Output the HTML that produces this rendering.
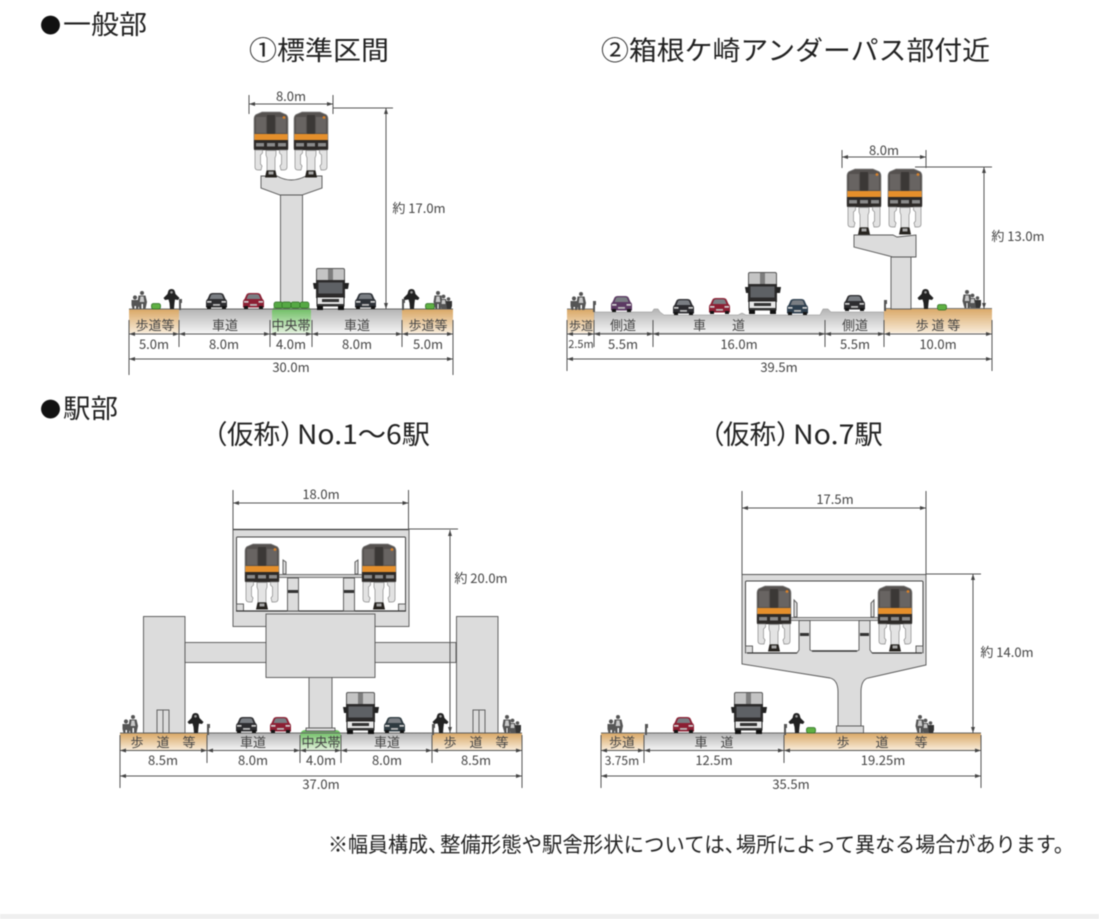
<!DOCTYPE html>
<html lang="ja"><head><meta charset="utf-8"><title>断面図</title>
<style>
html,body{margin:0;padding:0;background:#fff}
svg{display:block;filter:blur(.45px)}
text{font-family:"Liberation Sans","Noto Sans CJK JP",sans-serif;fill:#333}
.j{font-family:"Noto Sans CJK JP",sans-serif}
.h{font-size:26.5px;fill:#222}
.b{font-size:13px;text-anchor:middle;fill:#444;font-family:"Noto Sans CJK JP",sans-serif}
.m{font-size:13px;text-anchor:middle;fill:#444;font-family:"Noto Sans CJK JP",sans-serif}
.n{font-size:21px;fill:#222}
.d line{stroke:#555;stroke-width:1}
.a{marker-start:url(#ar);marker-end:url(#ar)}
.s{fill:#dcdcdc;stroke:#555;stroke-width:.9}
</style></head><body>
<svg width="1099" height="919" viewBox="0 0 1099 919" xmlns="http://www.w3.org/2000/svg">
<defs>
<linearGradient id="sw" x1="0" y1="0" x2="0" y2="1"><stop offset="0" stop-color="#d9a765"/><stop offset="1" stop-color="#f8ebd8"/></linearGradient>
<linearGradient id="rd" x1="0" y1="0" x2="0" y2="1"><stop offset="0" stop-color="#b4b4b4"/><stop offset="1" stop-color="#f4f4f4"/></linearGradient>
<linearGradient id="gr" x1="0" y1="0" x2="0" y2="1"><stop offset="0" stop-color="#63b958"/><stop offset="1" stop-color="#e2f2dc"/></linearGradient>
<marker id="ar" viewBox="-3 -2 6 4" markerWidth="6" markerHeight="4" orient="auto-start-reverse" markerUnits="userSpaceOnUse" refX="3" refY="0"><path d="M3 0L-3-2V2Z" fill="#444"/></marker>
<symbol id="t" width="34" height="66" viewBox="0 0 34 66" overflow="visible">
<path d="M8 0H26L32 2.5Q34 4 34 7V36Q34 38 32 38H2Q0 38 0 36V7Q0 4 2 2.5Z" fill="#55514f" stroke="#8a8a8a" stroke-width=".7"/>
<rect x="2" y="5" width="10" height="16" fill="#686462"/><rect x="22" y="5" width="10" height="16" fill="#686462"/>
<rect x="13" y="3" width="8" height="19" fill="#3b3836"/><circle cx="30" cy="5.500" r="1.400" fill="#d8812a"/>
<rect x=".4" y="22" width="33.200" height="6" fill="#e58f2b"/>
<rect x="0" y="28" width="34" height="10" fill="#2d2a28"/>
<rect x="2" y="31" width="8" height="3.500" fill="#8a8a8a"/><rect x="13" y="31" width="8" height="3.500" fill="#8a8a8a"/><rect x="24" y="31" width="8" height="3.500" fill="#8a8a8a"/>
<path d="M1 38H8.500V41L6.500 43V52L8 54 7 58H4Q1 58 1 55Z" fill="#e2e2e2" stroke="#888" stroke-width=".7"/>
<path d="M33 38H25.500V41L27.500 43V52L26 54 27 58H30Q33 58 33 55Z" fill="#e2e2e2" stroke="#888" stroke-width=".7"/>
<path d="M12 38.500H22V43L21 46V58.500H13V46L12 43Z" fill="#e4e4e4" stroke="#888" stroke-width=".7"/>
<path d="M12.500 58.500H21.500L23 65.500H11Z" fill="#26231f"/><rect x="14.500" y="59.500" width="5" height="3" fill="#a5a5a5"/>
</symbol>
<symbol id="c" width="21" height="16" viewBox="0 0 21 16" overflow="visible">
<path d="M1.500 6L3.500 1.500Q4.500 0 7 0H14Q16.500 0 17.500 1.500L19.500 6Q21 7 21 9V14.500H0V9Q0 7 1.500 6Z" fill="currentColor"/>
<path d="M3.500 6L5 2.200Q5.500 1.300 7.500 1.300H13.500Q15.500 1.300 16 2.200L17.500 6Z" fill="#7a7e83"/>
<rect x="1" y="8" width="4.500" height="1.700" fill="#d0d0d0"/><rect x="15.500" y="8" width="4.500" height="1.700" fill="#d0d0d0"/>
<rect x="7" y="11" width="7" height="1.800" fill="#bbb"/>
<rect x="1" y="13" width="4" height="3" fill="#141414"/><rect x="16" y="13" width="4" height="3" fill="#141414"/>
</symbol>
<symbol id="k" width="36" height="42" viewBox="0 0 36 42" overflow="visible">
<rect x="3.500" y=".5" width="28" height="15" rx="1.500" fill="#c4c4c4" stroke="#555"/><rect x="15" y="1" width="5" height="14" fill="#7d7d7d"/>
<rect x="3" y="12" width="29" height="18" fill="#2c2b2b"/><rect x="5.500" y="14.500" width="24" height="11" fill="#5e6165"/>
<path d="M0 15H4V21H1Z" fill="#222"/><path d="M36 15H31V21H35Z" fill="#222"/>
<rect x="4" y="29" width="27" height="9" fill="#e8e8e8" stroke="#222"/><rect x="9" y="31" width="17" height="3" fill="#333"/>
<rect x="3.500" y="36" width="28" height="2.500" fill="#333"/>
<rect x="4" y="38" width="6" height="4" fill="#111"/><rect x="25" y="38" width="6" height="4" fill="#111"/>
</symbol>
<symbol id="p" width="19" height="18" viewBox="0 0 19 18" overflow="visible">
<g fill="#555"><circle cx="4" cy="6.500" r="2.100"/><path d="M.5 9H7.500L8 14 7 18H5V15H3.500V18H1.500L.5 14Z"/>
<circle cx="11" cy="2" r="2"/><path d="M7.500 4.500H14.500L16 11 14.500 18H12V13H10.500V18H8.500L6.500 11Z"/></g>
<path d="M9.500 5.500H12.500L13.300 11H8.700Z" fill="#c9c9c9"/>
</symbol>
<symbol id="q" width="19" height="18" viewBox="0 0 19 18" overflow="visible">
<g fill="#555"><circle cx="5" cy="2" r="2"/><path d="M1.500 4.500H8.500L9.500 11 8 18H5.500V13H4.500V18H2.500L.5 11Z"/>
<circle cx="10.500" cy="5.500" r="1.900"/><path d="M8 8H13L14 13V18H8.500L7.500 13Z"/>
<circle cx="15.500" cy="8" r="1.800"/><path d="M13 10H19V15L18 18H14Z" fill="#333"/></g>
<path d="M3.500 5.500H6.500L7.300 11H2.700Z" fill="#c9c9c9"/><path d="M9 9H12L12.500 13H8.500Z" fill="#c9c9c9"/>
</symbol>
<symbol id="w" width="16" height="20" viewBox="0 0 16 20" overflow="visible">
<path d="M7.500 0Q10.500 0 11 3L11.500 5 15.500 9 14 11 11 10.500 10.500 14 10 20H6L5.500 14 4.500 10.500 1 11 -.5 9 3.500 5 4 3Q4.500 0 7.500 0Z" fill="#222"/>
<circle cx="7.500" cy="3.300" r="1.300" fill="#999"/>
</symbol>
<symbol id="o" width="4" height="11" viewBox="0 0 4 11" overflow="visible"><path d="M1 0H4V4H3V11H1Z" fill="#555"/></symbol>
<symbol id="u" width="10" height="6" viewBox="0 0 10 6" overflow="visible"><rect x=".5" y=".5" width="9" height="5.500" rx="2" fill="#5fb043" stroke="#2f6e25" stroke-width=".8"/></symbol>
</defs>
<rect width="1099" height="919" fill="#fff"/>
<rect y="914" width="1099" height="5" fill="#efefef"/>

<text class="j" x="40" y="33" font-size="21" style="fill:#111">●</text>
<text class="h j" x="63" y="34" textLength="84" lengthAdjust="spacingAndGlyphs">一般部</text>
<text class="h j" x="249" y="60" textLength="140" lengthAdjust="spacingAndGlyphs">①標準区間</text>
<text class="h j" x="601" y="60" textLength="389" lengthAdjust="spacingAndGlyphs">②箱根ケ崎アンダーパス部付近</text>
<text class="j" x="40" y="417" font-size="21" style="fill:#111">●</text>
<text class="h j" x="63" y="418" textLength="55" lengthAdjust="spacingAndGlyphs">駅部</text>
<text class="h j" x="201" y="444">（</text><text class="h j" x="227" y="444" textLength="53" lengthAdjust="spacingAndGlyphs">仮称</text><text class="h j" x="280" y="444">）</text><text class="h j" x="297" y="444" textLength="133" lengthAdjust="spacingAndGlyphs">No.1～6駅</text>
<text class="h j" x="698" y="444">（</text><text class="h j" x="723" y="444" textLength="53" lengthAdjust="spacingAndGlyphs">仮称</text><text class="h j" x="776" y="444">）</text><text class="h j" x="793" y="444" textLength="90" lengthAdjust="spacingAndGlyphs">No.7駅</text>
<text class="n j" x="328" y="852" textLength="120" lengthAdjust="spacingAndGlyphs">※幅員構成、</text>
<text class="n j" x="440" y="852" textLength="305" lengthAdjust="spacingAndGlyphs">整備形態や駅舎形状については、</text>
<text class="n j" x="736" y="852" textLength="338" lengthAdjust="spacingAndGlyphs">場所によって異なる場合があります。</text>

<!-- Diagram 1 -->
<g>
<rect x="129" y="309" width="324" height="24" fill="url(#rd)"/>
<rect x="129" y="309" width="50" height="24" fill="url(#sw)"/><rect x="402" y="309" width="51" height="24" fill="url(#sw)"/>
<path d="M272 333V311Q273 306 277 306H306Q310 306 311 311V333Z" fill="url(#gr)"/>
<line x1="129" y1="309" x2="453" y2="309" stroke="#666"/>
<rect class="s" x="280.500" y="195" width="22" height="110"/>
<path class="s" d="M261 176H277Q291 184 306 176H322V188L302 195H280L261 188Z"/>
<use href="#t" x="254" y="112"/><use href="#t" x="294" y="112"/>
<g fill="#56a944" stroke="#2f6e25" stroke-width=".7"><rect x="274" y="302" width="9" height="6" rx="2"/><rect x="282" y="302" width="9" height="6" rx="2"/><rect x="291" y="302" width="9" height="6" rx="2"/><rect x="300" y="302" width="9" height="6" rx="2"/></g>
<use href="#p" x="131" y="291"/><use href="#u" x="151" y="303"/><use href="#w" x="164" y="289"/><use href="#o" x="178" y="299"/>
<use href="#c" x="206" y="293" color="#2d2d30"/><use href="#c" x="243" y="293" color="#8c1f33"/>
<use href="#k" x="313" y="268"/><use href="#c" x="355" y="293" color="#2e3238"/>
<use href="#o" x="401" y="299"/><use href="#w" x="404" y="289"/><use href="#u" x="425" y="303"/><use href="#q" x="433" y="291"/>
<text class="b" x="155" y="330">歩道等</text><text class="b" x="225" y="330">車道</text><text class="b" x="291" y="330">中央帯</text><text class="b" x="357" y="330">車道</text><text class="b" x="428" y="330">歩道等</text>
<g class="d">
<line x1="129" y1="320" x2="129" y2="375"/><line x1="179" y1="320" x2="179" y2="347"/><line x1="270" y1="320" x2="270" y2="347"/><line x1="312" y1="320" x2="312" y2="347"/><line x1="402" y1="320" x2="402" y2="347"/><line x1="453" y1="320" x2="453" y2="375"/>
<line class="a" x1="129" y1="334" x2="179" y2="334"/><line class="a" x1="179" y1="334" x2="270" y2="334"/><line class="a" x1="270" y1="334" x2="312" y2="334"/><line class="a" x1="312" y1="334" x2="402" y2="334"/><line class="a" x1="402" y1="334" x2="453" y2="334"/>
<line class="a" x1="129" y1="359" x2="453" y2="359"/>
<line x1="249" y1="95" x2="249" y2="114"/><line x1="333" y1="95" x2="333" y2="114"/><line class="a" x1="249" y1="104" x2="333" y2="104"/>
<line x1="333" y1="108" x2="393" y2="108"/><line class="a" x1="386" y1="108" x2="386" y2="309"/>
</g>
<text class="m" x="154" y="349">5.0m</text><text class="m" x="224" y="349">8.0m</text><text class="m" x="291" y="349">4.0m</text><text class="m" x="357" y="349">8.0m</text><text class="m" x="428" y="349">5.0m</text><text class="m" x="291" y="372">30.0m</text><text class="m" x="291" y="101">8.0m</text><text class="m" x="419" y="213">約 17.0m</text>
</g>

<!-- Diagram 2 -->
<g>
<path d="M594 333V312H652L654 309H658L660 312L664 315H738L742 313L746 315H820L823 309H828L831 312H884V333Z" fill="url(#rd)" stroke="#888" stroke-width=".5"/>
<rect x="567" y="309" width="27" height="24" fill="url(#sw)"/><rect x="884" y="308" width="108" height="25" fill="url(#sw)"/>
<line x1="567" y1="309" x2="594" y2="309" stroke="#777"/><line x1="884" y1="308.500" x2="992" y2="308.500" stroke="#777"/>
<rect class="s" x="891" y="257" width="20" height="52"/>
<path class="s" d="M854 235H893L897 237 916 235V257H893L854 247Z"/>
<use href="#t" x="847" y="169"/><use href="#t" x="888" y="169"/>
<use href="#p" x="570" y="292"/><use href="#o" x="592" y="301"/>
<use href="#c" x="611" y="296" color="#5c3a63"/><use href="#c" x="673" y="299" color="#2c2c30"/><use href="#c" x="709" y="298" color="#8c1f33"/>
<use href="#k" x="745" y="272"/><use href="#c" x="787" y="299" color="#2e3f4e"/><use href="#c" x="844" y="295" color="#2d2d30"/>
<use href="#o" x="883" y="300"/><use href="#w" x="918" y="289"/><use href="#u" x="937" y="304"/><use href="#q" x="962" y="290"/>
<text class="b" x="581" y="330" style="font-size:12px">歩道</text><text class="b" x="623" y="330">側道</text><text class="b" x="719" y="330" xml:space="preserve">車　　道</text><text class="b" x="855" y="330">側道</text><text class="b" x="938" y="330">歩 道 等</text>
<g class="d">
<line x1="567" y1="320" x2="567" y2="371"/><line x1="594" y1="320" x2="594" y2="347"/><line x1="653" y1="320" x2="653" y2="347"/><line x1="825" y1="320" x2="825" y2="347"/><line x1="884" y1="320" x2="884" y2="347"/><line x1="992" y1="320" x2="992" y2="371"/>
<line class="a" x1="567" y1="334" x2="594" y2="334"/><line class="a" x1="594" y1="334" x2="653" y2="334"/><line class="a" x1="653" y1="334" x2="825" y2="334"/><line class="a" x1="825" y1="334" x2="884" y2="334"/><line class="a" x1="884" y1="334" x2="992" y2="334"/>
<line class="a" x1="567" y1="359" x2="992" y2="359"/>
<line x1="842" y1="150" x2="842" y2="168"/><line x1="926" y1="150" x2="926" y2="168"/><line class="a" x1="842" y1="157" x2="926" y2="157"/>
<line x1="915" y1="167" x2="992" y2="167"/><line class="a" x1="984" y1="167" x2="984" y2="309"/>
</g>
<text class="m" x="581" y="348" style="font-size:11px">2.5m</text><text class="m" x="623" y="349">5.5m</text><text class="m" x="739" y="349">16.0m</text><text class="m" x="855" y="349">5.5m</text><text class="m" x="938" y="349">10.0m</text><text class="m" x="779" y="372">39.5m</text><text class="m" x="884" y="155">8.0m</text><text class="m" x="1018" y="241">約 13.0m</text>
</g>

<!-- Diagram 3 -->
<g>
<rect x="120" y="733" width="402" height="17" fill="url(#rd)"/>
<rect x="120" y="733" width="87" height="17" fill="url(#sw)"/><rect x="432" y="733" width="90" height="17" fill="url(#sw)"/>
<path d="M300 750V735Q301 730 305 730H336Q340 730 341 735V750Z" fill="url(#gr)"/>
<line x1="120" y1="733" x2="522" y2="733" stroke="#666"/>
<rect class="s" x="143.500" y="616.500" width="41.500" height="116.500"/><rect class="s" x="456.500" y="616.500" width="41.500" height="116.500"/>
<rect class="s" x="157" y="710" width="12" height="23"/><line x1="163" y1="710" x2="163" y2="733" stroke="#666"/><rect class="s" x="473" y="710" width="12" height="23"/><line x1="479" y1="710" x2="479" y2="733" stroke="#666"/>
<rect class="s" x="185" y="642.500" width="271" height="20"/>
<rect class="s" x="309" y="677" width="23" height="51"/><rect class="s" x="306" y="728" width="29" height="3"/>
<rect class="s" x="233" y="529.500" width="176" height="97"/>
<rect x="236.500" y="537" width="169" height="74" rx="1" fill="#fff" stroke="#444"/>
<rect class="s" x="236.500" y="604" width="7" height="7"/><rect class="s" x="398.500" y="604" width="7" height="7"/>
<line x1="233" y1="529.500" x2="409" y2="529.500" stroke="#333" stroke-width="1.300"/>
<rect class="s" x="266" y="614" width="109" height="63.500"/>
<line x1="236" y1="611" x2="406" y2="611" stroke="#333" stroke-width="1.300"/>
<rect class="s" x="287.500" y="578" width="11" height="33"/><rect class="s" x="343.500" y="578" width="11" height="33"/>
<rect x="288" y="590" width="10" height="3" fill="#333"/><rect x="344" y="590" width="10" height="3" fill="#333"/>
<rect x="279" y="574.500" width="83" height="3" fill="#d0d0d0" stroke="#444" stroke-width=".7"/>
<path class="s" d="M283 560L286 562V574H283Z"/><path class="s" d="M358 560L355 562V574H358Z"/>
<use href="#t" x="245" y="544"/><use href="#t" x="362" y="544"/>
<use href="#p" x="122" y="715"/><use href="#w" x="188" y="713"/><use href="#o" x="206" y="724"/>
<use href="#c" x="236" y="717" color="#2d2d30"/><use href="#c" x="270" y="717" color="#8c1f33"/>
<use href="#k" x="343" y="692"/><use href="#c" x="384" y="717" color="#2e3a40"/>
<use href="#o" x="431" y="724"/><use href="#w" x="433" y="713"/><use href="#q" x="502" y="715"/>
<text class="b" x="163" y="747" xml:space="preserve">歩　道　等</text><text class="b" x="253" y="747">車道</text><text class="b" x="321" y="747">中央帯</text><text class="b" x="387" y="747">車道</text><text class="b" x="476" y="747" xml:space="preserve">歩　道　等</text>
<g class="d">
<line x1="120" y1="735" x2="120" y2="788"/><line x1="207" y1="735" x2="207" y2="763"/><line x1="300" y1="735" x2="300" y2="763"/><line x1="341" y1="735" x2="341" y2="763"/><line x1="432" y1="735" x2="432" y2="763"/><line x1="522" y1="735" x2="522" y2="788"/>
<line class="a" x1="120" y1="750.500" x2="207" y2="750.500"/><line class="a" x1="207" y1="750.500" x2="300" y2="750.500"/><line class="a" x1="300" y1="750.500" x2="341" y2="750.500"/><line class="a" x1="341" y1="750.500" x2="432" y2="750.500"/><line class="a" x1="432" y1="750.500" x2="522" y2="750.500"/>
<line class="a" x1="120" y1="776" x2="522" y2="776"/>
<line x1="233" y1="490" x2="233" y2="530"/><line x1="408.500" y1="490" x2="408.500" y2="530"/><line class="a" x1="233" y1="503" x2="408.500" y2="503"/>
<line x1="408" y1="529" x2="458" y2="529"/><line class="a" x1="450" y1="530" x2="450" y2="733"/>
</g>
<text class="m" x="163" y="765">8.5m</text><text class="m" x="253" y="765">8.0m</text><text class="m" x="321" y="765">4.0m</text><text class="m" x="387" y="765">8.0m</text><text class="m" x="476" y="765">8.5m</text><text class="m" x="321" y="789">37.0m</text><text class="m" x="321" y="499">18.0m</text><text class="m" x="481" y="583">約 20.0m</text>
</g>

<!-- Diagram 4 -->
<g>
<rect x="601" y="733" width="380" height="17" fill="url(#rd)"/>
<rect x="601" y="733" width="43" height="17" fill="url(#sw)"/><rect x="784" y="733" width="197" height="17" fill="url(#sw)"/>
<line x1="601" y1="733" x2="981" y2="733" stroke="#666"/>
<path class="s" d="M742 574.500H926V665L868 678Q861 680 861 692V726H838V692Q838 680 830 678L742 664Z"/>
<rect class="s" x="836.500" y="726" width="27" height="7"/>
<rect x="746" y="581.500" width="176.500" height="71.500" fill="#fff"/>
<path d="M745.500 653V582Q745.500 581 747 581H921.500Q923 581 923 582V653" fill="none" stroke="#444"/>
<rect class="s" x="745.500" y="646" width="7" height="7"/><rect class="s" x="916" y="646" width="7" height="7"/>
<path d="M799 620.500H810V650L812 651H857L859 650V620.500H870V650L872 653H923V660H746V653H797L799 650Z" fill="#dcdcdc" stroke="none"/>
<path d="M797 653L799 650V620.500H810V650L812 651M857 651L859 650V620.500H870V650L872 653" fill="none" stroke="#555" stroke-width=".9"/>
<line x1="747" y1="653" x2="797" y2="653" stroke="#333" stroke-width="1.200"/><line x1="812" y1="651" x2="857" y2="651" stroke="#333" stroke-width="1.500"/><line x1="872" y1="653" x2="922" y2="653" stroke="#333" stroke-width="1.200"/>
<rect x="800" y="633" width="9" height="3" fill="#333"/><rect x="860" y="633" width="9" height="3" fill="#333"/>
<rect x="790" y="617.500" width="88" height="3" fill="#d0d0d0" stroke="#444" stroke-width=".7"/>
<path class="s" d="M794 600L797 603V617H794Z"/><path class="s" d="M874 600L871 603V617H874Z"/>
<use href="#t" x="757" y="586"/><use href="#t" x="878" y="586"/>
<use href="#p" x="607" y="715"/><use href="#o" x="644" y="724"/>
<use href="#c" x="673" y="717" color="#8c1f33"/><use href="#k" x="731" y="692"/>
<use href="#o" x="783" y="724"/><use href="#w" x="789" y="713"/><use href="#u" x="806" y="727"/><use href="#q" x="915" y="715"/>
<text class="b" x="622" y="747">歩道</text><text class="b" x="714" y="747" xml:space="preserve">車　道</text><text class="b" x="882" y="747" xml:space="preserve">歩　　道　　等</text>
<g class="d">
<line x1="601" y1="735" x2="601" y2="788"/><line x1="644" y1="735" x2="644" y2="763"/><line x1="784" y1="735" x2="784" y2="763"/><line x1="981" y1="735" x2="981" y2="788"/>
<line class="a" x1="601" y1="750.500" x2="644" y2="750.500"/><line class="a" x1="644" y1="750.500" x2="784" y2="750.500"/><line class="a" x1="784" y1="750.500" x2="981" y2="750.500"/>
<line class="a" x1="601" y1="776" x2="981" y2="776"/>
<line x1="742" y1="491" x2="742" y2="575"/><line x1="926" y1="491" x2="926" y2="575"/><line class="a" x1="742" y1="508" x2="926" y2="508"/>
<line x1="926" y1="574" x2="981" y2="574"/><line class="a" x1="973" y1="574" x2="973" y2="733"/>
</g>
<text class="m" x="622" y="765" style="font-size:12px">3.75m</text><text class="m" x="714" y="765">12.5m</text><text class="m" x="883" y="765">19.25m</text><text class="m" x="791" y="789">35.5m</text><text class="m" x="835" y="504">17.5m</text><text class="m" x="1007" y="657">約 14.0m</text>
</g>
</svg>
</body></html>
